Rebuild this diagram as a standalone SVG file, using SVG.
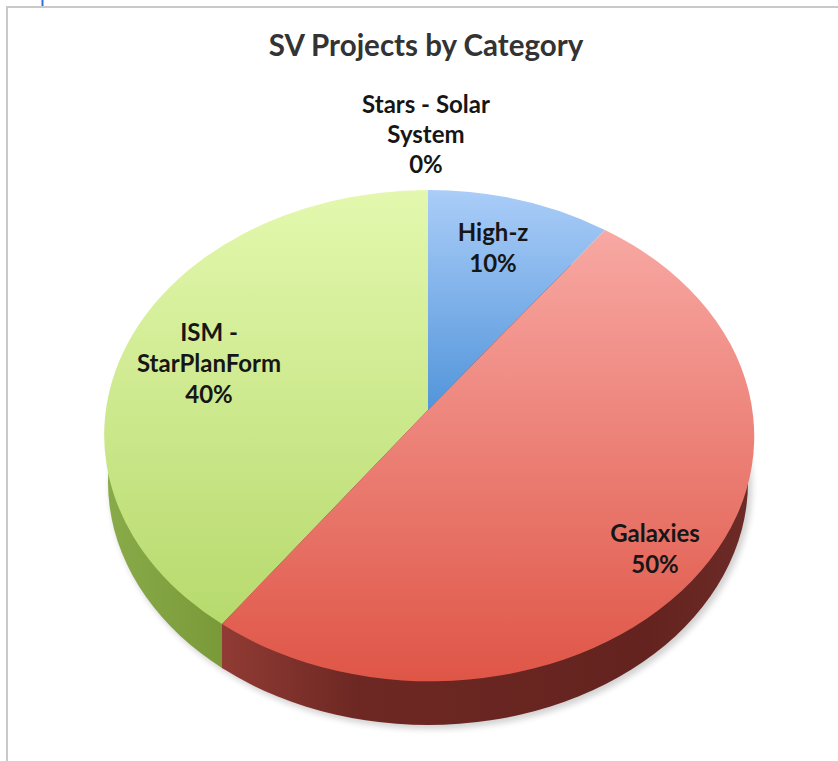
<svg xmlns="http://www.w3.org/2000/svg" width="838" height="761" viewBox="0 0 838 761">
<style>
.t{font-family:Lato,"Open Sans","Liberation Sans",sans-serif;font-weight:bold;text-anchor:middle}
.title{font-size:29.5px;fill:#333333}
.lbl{font-size:24px;fill:#161616}
</style>
<defs>
<linearGradient id="gG" gradientUnits="userSpaceOnUse" x1="0" y1="190" x2="0" y2="680">
<stop offset="0" stop-color="#e3f8ae"/><stop offset="1" stop-color="#b1d665"/>
</linearGradient>
<linearGradient id="gB" gradientUnits="userSpaceOnUse" x1="0" y1="190" x2="0" y2="410">
<stop offset="0" stop-color="#aacdf8"/><stop offset="1" stop-color="#5295da"/>
</linearGradient>
<linearGradient id="gR" gradientUnits="userSpaceOnUse" x1="0" y1="230" x2="0" y2="680">
<stop offset="0" stop-color="#f8a8a3"/><stop offset="1" stop-color="#df5647"/>
</linearGradient>
<linearGradient id="sR" gradientUnits="userSpaceOnUse" x1="222" y1="0" x2="752" y2="0">
<stop offset="0" stop-color="#913b34"/><stop offset="0.25" stop-color="#6e2823"/><stop offset="0.8" stop-color="#64231f"/><stop offset="1" stop-color="#6c2b27"/>
</linearGradient>
<linearGradient id="sG" gradientUnits="userSpaceOnUse" x1="104" y1="0" x2="222" y2="0">
<stop offset="0" stop-color="#8aab4a"/><stop offset="1" stop-color="#7a9a3a"/>
</linearGradient>
<clipPath id="cL"><rect x="0" y="0" width="222" height="761"/></clipPath>
<clipPath id="cR"><rect x="222" y="0" width="616" height="761"/></clipPath>
<filter id="blur" x="-10%" y="-10%" width="120%" height="120%"><feGaussianBlur stdDeviation="3"/></filter>
</defs>
<rect width="838" height="761" fill="#ffffff"/>
<g id="frame">
<line x1="6" y1="7" x2="838" y2="7" stroke="#c9c9c9" stroke-width="2"/>
<line x1="7" y1="6" x2="7" y2="761" stroke="#c9c9c9" stroke-width="2"/>
<line x1="42.5" y1="0" x2="42.5" y2="6" stroke="#2f6fe0" stroke-width="2"/>
</g>
<g id="title"><text class="t title" x="426" y="56">SV Projects by Category</text></g>
<g id="shadow"><ellipse cx="431" cy="485" rx="321" ry="244" fill="#000" opacity="0.18" filter="url(#blur)"/></g>
<g id="side">
<ellipse cx="428" cy="482" rx="320" ry="243" fill="url(#sG)" clip-path="url(#cL)"/>
<ellipse cx="428" cy="482" rx="320" ry="243" fill="url(#sR)" clip-path="url(#cR)"/>
</g>
<g id="slice-ism">
<path d="M428,410 L222,624 A324,245 0 0 1 428,190 Z" fill="url(#gG)"/>
</g>
<g id="slice-highz">
<path d="M428,410 L428,190 A324,245 0 0 1 605,230 Z" fill="url(#gB)"/>
</g>
<g id="slice-galaxies">
<path d="M428,410 L605,230 A324,245 0 1 1 222,624 Z" fill="url(#gR)"/>
</g>
<g id="label-stars">
<text class="t lbl" x="426" y="113">Stars - Solar</text>
<text class="t lbl" x="426" y="143">System</text>
<text class="t lbl" x="426" y="173">0%</text>
</g>
<g id="label-highz">
<text class="t lbl" x="493" y="241">High-z</text>
<text class="t lbl" x="493" y="272">10%</text>
</g>
<g id="label-ism">
<text class="t lbl" x="209" y="341">ISM -</text>
<text class="t lbl" x="209" y="372">StarPlanForm</text>
<text class="t lbl" x="209" y="403">40%</text>
</g>
<g id="label-galaxies">
<text class="t lbl" x="655" y="542">Galaxies</text>
<text class="t lbl" x="655" y="573">50%</text>
</g>
</svg>
